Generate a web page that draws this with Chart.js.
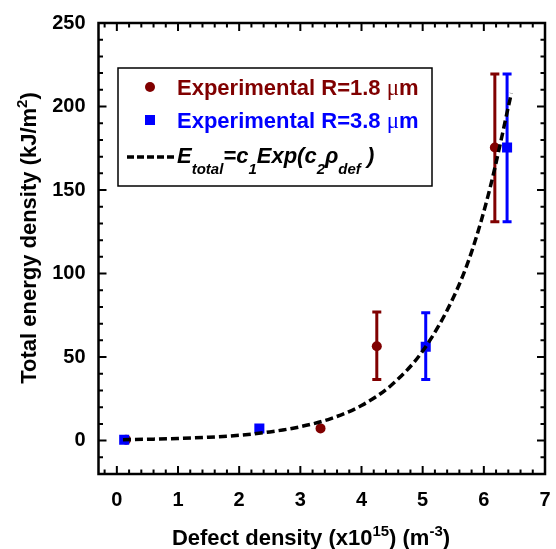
<!DOCTYPE html>
<html lang="en">
<head>
    <meta charset="UTF-8">
    <title>Total energy density vs defect density</title>
    <script src="https://cdn.jsdelivr.net/npm/chart.js"></script>
    <style>
        body { margin: 0; background: #fff; }
        canvas { display: block; }
    </style>
</head>
<body>
<canvas id="energyChart" width="556" height="549"></canvas>

<script>
    // values
    const xTicks = [0, 1, 2, 3, 4, 5, 6, 7];
    const yTicks = [0, 50, 100, 150, 200, 250];

    const redX = [0.15, 3.33, 4.25, 6.18];
    const redY = [0.5, 7.3, 56.5, 175.5];
    const redLow = [null, null, 36.5, 131];
    const redHigh = [null, null, 77, 219.5];

    const blueX = [0.12, 2.33, 5.05, 6.38];
    const blueY = [0.5, 7.3, 56.2, 175.5];
    const blueLow = [null, null, 36.5, 131];
    const blueHigh = [null, null, 76.6, 219.5];

    const fitX = [0.1, 0.6, 1.0, 1.5, 2.0, 2.5, 3.0, 3.5, 4.0, 4.5, 5.0, 5.5, 5.8, 6.1, 6.45];
    const fitY = [0.55, 0.87, 1.27, 2.0, 3.2, 5.2, 8.3, 13.2, 21.0, 33.6, 53.6, 85.5, 113, 151, 208];

    const RED = '#800000';
    const BLUE = '#0000ff';
    const SANS = '"Liberation Sans", Arial, sans-serif';

    function pairs(xs, ys) {
        return xs.map((x, i) => ({ x: x, y: ys[i] }));
    }

    // draws a list of text pieces one after another, each with its own font and vertical shift
    function drawRich(ctx, parts, x, y, align) {
        let total = 0;
        parts.forEach(p => { ctx.font = p.font; total += ctx.measureText(p.t).width; });
        let cx = align === 'center' ? x - total / 2 : x;
        ctx.textAlign = 'left';
        ctx.textBaseline = 'alphabetic';
        parts.forEach(p => {
            ctx.font = p.font;
            ctx.fillText(p.t, cx, y + (p.dy || 0));
            cx += ctx.measureText(p.t).width;
        });
    }

    const errorBars = {
        id: 'errorBars',
        beforeDatasetsDraw(chart) {
            const ctx = chart.ctx;
            const xs = chart.scales.x, ys = chart.scales.y;
            const sets = [
                { x: redX, lo: redLow, hi: redHigh, color: RED },
                { x: blueX, lo: blueLow, hi: blueHigh, color: BLUE }
            ];
            ctx.save();
            ctx.lineWidth = 3;
            sets.forEach(s => {
                ctx.strokeStyle = s.color;
                s.x.forEach((xv, i) => {
                    if (s.lo[i] === null) return;
                    const px = xs.getPixelForValue(xv);
                    const y1 = ys.getPixelForValue(s.lo[i]);
                    const y2 = ys.getPixelForValue(s.hi[i]);
                    ctx.beginPath();
                    ctx.moveTo(px, y1); ctx.lineTo(px, y2);
                    ctx.moveTo(px - 4.5, y1); ctx.lineTo(px + 4.5, y1);
                    ctx.moveTo(px - 4.5, y2); ctx.lineTo(px + 4.5, y2);
                    ctx.stroke();
                });
            });
            ctx.restore();
        }
    };

    const frameAndText = {
        id: 'frameAndText',
        afterDraw(chart) {
            const ctx = chart.ctx;
            const a = chart.chartArea;
            const xs = chart.scales.x, ys = chart.scales.y;
            ctx.save();

            // frame
            ctx.strokeStyle = '#000';
            ctx.lineWidth = 2.5;
            ctx.strokeRect(a.left, a.top, a.right - a.left, a.bottom - a.top);

            // inward ticks on all four sides
            ctx.lineWidth = 2;
            ctx.beginPath();
            for (let i = -1; i <= 35; i++) {
                const v = i * 0.2;
                if (v < xs.min || v > xs.max + 1e-9) continue;
                const px = xs.getPixelForValue(v);
                const len = (i % 5 === 0) ? 8 : 4.5;
                ctx.moveTo(px, a.bottom); ctx.lineTo(px, a.bottom - len);
                ctx.moveTo(px, a.top); ctx.lineTo(px, a.top + len);
            }
            for (let v = -20; v <= 250; v += 10) {
                const py = ys.getPixelForValue(v);
                const len = (v % 50 === 0) ? 8 : 4.5;
                ctx.moveTo(a.left, py); ctx.lineTo(a.left + len, py);
                ctx.moveTo(a.right, py); ctx.lineTo(a.right - len, py);
            }
            ctx.stroke();

            // axis titles
            ctx.fillStyle = '#000';
            const tf = 'bold 22px ' + SANS;
            const sf = 'bold 15px ' + SANS;
            drawRich(ctx, [
                { t: 'Defect density (x10', font: tf },
                { t: '15', font: sf, dy: -9 },
                { t: ') (m', font: tf },
                { t: '-3', font: sf, dy: -9 },
                { t: ')', font: tf }
            ], 311, 545, 'center');

            ctx.save();
            ctx.translate(36, 238);
            ctx.rotate(-Math.PI / 2);
            drawRich(ctx, [
                { t: 'Total energy density (kJ/m', font: tf },
                { t: '2', font: sf, dy: -9 },
                { t: ')', font: tf }
            ], 0, 0, 'center');
            ctx.restore();

            // legend box
            ctx.lineWidth = 1.5;
            ctx.strokeStyle = '#000';
            ctx.fillStyle = '#fff';
            ctx.fillRect(118, 68, 314, 118);
            ctx.strokeRect(118, 68, 314, 118);

            const lf = 'bold 22px ' + SANS;
            const mu = '23px "Liberation Serif", serif';

            ctx.fillStyle = RED;
            ctx.beginPath();
            ctx.arc(150, 87, 5, 0, Math.PI * 2);
            ctx.fill();
            drawRich(ctx, [
                { t: 'Experimental R=1.8 ', font: lf },
                { t: 'μ', font: mu },
                { t: 'm', font: lf }
            ], 177, 95, 'left');

            ctx.fillStyle = BLUE;
            ctx.fillRect(145, 115, 10, 10);
            drawRich(ctx, [
                { t: 'Experimental R=3.8 ', font: lf },
                { t: 'μ', font: mu },
                { t: 'm', font: lf }
            ], 177, 128, 'left');

            ctx.strokeStyle = '#000';
            ctx.lineWidth = 3.5;
            ctx.setLineDash([7, 3]);
            ctx.beginPath();
            ctx.moveTo(127, 157);
            ctx.lineTo(175, 157);
            ctx.stroke();
            ctx.setLineDash([]);

            ctx.fillStyle = '#000';
            const bi = 'italic bold 22px ' + SANS;
            const bs = 'italic bold 15px ' + SANS;
            drawRich(ctx, [
                { t: 'E', font: bi },
                { t: 'total', font: bs, dy: 11 },
                { t: '=c', font: bi },
                { t: '1', font: bs, dy: 11 },
                { t: 'Exp(c', font: bi },
                { t: '2', font: bs, dy: 11 },
                { t: 'ρ', font: bi },
                { t: 'def', font: bs, dy: 11 },
                { t: ' )', font: bi }
            ], 177, 163, 'left');

            ctx.restore();
        }
    };

    // keep tick labels from pushing the plot area in
    function noOverhang(scale) {
        scale.paddingLeft = 0;
        scale.paddingRight = 0;
        scale.paddingTop = 0;
        scale.paddingBottom = 0;
    }

    const ctx = document.getElementById('energyChart').getContext('2d');
    new Chart(ctx, {
        type: 'scatter',
        data: {
            datasets: [
                {
                    type: 'line',
                    label: 'fit',
                    data: pairs(fitX, fitY),
                    borderColor: '#000',
                    borderWidth: 3.5,
                    borderDash: [8, 4],
                    pointRadius: 0,
                    fill: false,
                    cubicInterpolationMode: 'monotone'
                },
                {
                    label: 'Experimental R=3.8 um',
                    data: pairs(blueX, blueY),
                    pointStyle: 'rect',
                    pointRadius: 7.1,
                    backgroundColor: BLUE,
                    borderColor: BLUE,
                    borderWidth: 0
                },
                {
                    label: 'Experimental R=1.8 um',
                    data: pairs(redX, redY),
                    pointStyle: 'circle',
                    pointRadius: 5,
                    backgroundColor: RED,
                    borderColor: RED,
                    borderWidth: 0
                }
            ]
        },
        options: {
            responsive: false,
            animation: false,
            layout: { padding: { left: 0, right: 11, top: 23, bottom: 0 } },
            plugins: {
                legend: { display: false },
                tooltip: { enabled: false }
            },
            scales: {
                x: {
                    type: 'linear',
                    min: -0.3,
                    max: 7,
                    grid: { display: false, drawTicks: false },
                    border: { display: false },
                    afterBuildTicks: scale => { scale.ticks = xTicks.map(v => ({ value: v })); },
                    afterFit: scale => { scale.height = 75; noOverhang(scale); },
                    ticks: {
                        padding: 14,
                        color: '#000',
                        font: { family: SANS, size: 20, weight: 'bold' }
                    }
                },
                y: {
                    type: 'linear',
                    min: -20,
                    max: 250,
                    grid: { display: false, drawTicks: false },
                    border: { display: false },
                    afterBuildTicks: scale => { scale.ticks = yTicks.map(v => ({ value: v })); },
                    afterFit: scale => { scale.width = 98.5; noOverhang(scale); },
                    ticks: {
                        padding: 13,
                        color: '#000',
                        font: { family: SANS, size: 20, weight: 'bold' }
                    }
                }
            }
        },
        plugins: [errorBars, frameAndText]
    });
</script>
</body>
</html>
